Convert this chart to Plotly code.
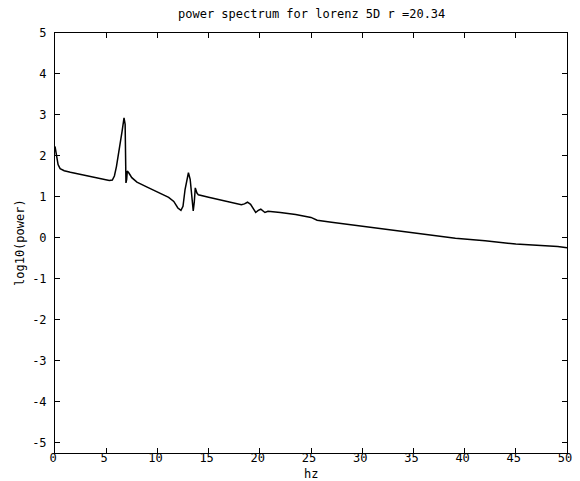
import plotly.graph_objects as go

hz = [0.0, 0.1, 0.2, 0.3, 0.5, 0.9, 1.5, 2.5, 3.3, 4.1, 4.8, 5.3, 5.6, 5.8, 6.0, 6.2, 6.4, 6.55, 6.74, 6.85,
      6.93, 7.0, 7.06, 7.2, 7.5, 8.0, 9.0, 10.0, 11.1, 11.6, 12.0, 12.3, 12.5, 12.7, 12.9, 13.03, 13.2, 13.4,
      13.5, 13.6, 13.7, 13.85, 14.0, 15.0, 16.0, 17.0, 18.2, 18.5, 18.8, 19.1, 19.4, 19.6, 19.85, 20.1, 20.5,
      20.8, 22.0, 23.5, 25.0, 25.6, 27.0, 28.5, 31.4, 35.0, 39.1, 42.0, 45.0, 49.1, 50.0]
log_power = [2.23, 2.10, 1.95, 1.79, 1.69, 1.64, 1.60, 1.55, 1.51, 1.47, 1.43, 1.40, 1.41, 1.51, 1.74, 2.03, 2.36, 2.60, 2.93, 2.77,
             1.34, 1.43, 1.63, 1.59, 1.47, 1.36, 1.24, 1.12, 0.99, 0.89, 0.73, 0.67, 0.77, 1.18, 1.49, 1.59, 1.43, 0.97,
             0.66, 0.87, 1.22, 1.10, 1.05, 0.99, 0.93, 0.87, 0.81, 0.83, 0.87, 0.82, 0.69, 0.62, 0.67, 0.70, 0.62,
             0.65, 0.62, 0.57, 0.50, 0.43, 0.38, 0.33, 0.24, 0.13, -0.01, -0.07, -0.15, -0.21, -0.24]

x_ticks = list(range(0, 51, 5))
y_ticks = list(range(-5, 6, 1))

FONT = "DejaVu Sans Mono"

fig = go.Figure()
fig.add_trace(go.Scatter(x=hz, y=log_power, mode="lines",
                         line=dict(color="black", width=1.5), showlegend=False))

axis_common = dict(showgrid=False, zeroline=False, showline=True, linecolor="black", linewidth=1,
                   mirror="ticks", ticks="inside", ticklen=5, tickcolor="black", tickwidth=1,
                   tickfont=dict(family=FONT, size=12, color="black"))

fig.update_layout(
    width=580, height=481,
    margin=dict(l=55, r=8, t=33, b=28),
    paper_bgcolor="white", plot_bgcolor="white",
    xaxis=dict(range=[0, 50], tickvals=x_ticks, ticktext=[str(v) for v in x_ticks],
               ticklabelstandoff=-6, ticklabelshift=-2, **axis_common),
    yaxis=dict(range=[-5.25, 5], tickvals=y_ticks, ticktext=[str(v) for v in y_ticks],
               ticklabelstandoff=5, **axis_common),
    annotations=[
        dict(text="power spectrum for lorenz 5D r =20.34", xref="paper", yref="paper", x=0.5, y=1,
             yshift=10, xanchor="center", yanchor="bottom", showarrow=False,
             font=dict(family=FONT, size=12, color="black")),
        dict(text="hz", xref="paper", yref="paper", x=0.5, y=0, yshift=-12, xanchor="center",
             yanchor="top", showarrow=False, font=dict(family=FONT, size=12, color="black")),
        dict(text="log10(power)", xref="paper", yref="paper", x=0, y=0.5, xshift=-26, textangle=-90,
             xanchor="right", yanchor="middle", showarrow=False,
             font=dict(family=FONT, size=12, color="black")),
    ],
)

fig.write_html("out.html")
